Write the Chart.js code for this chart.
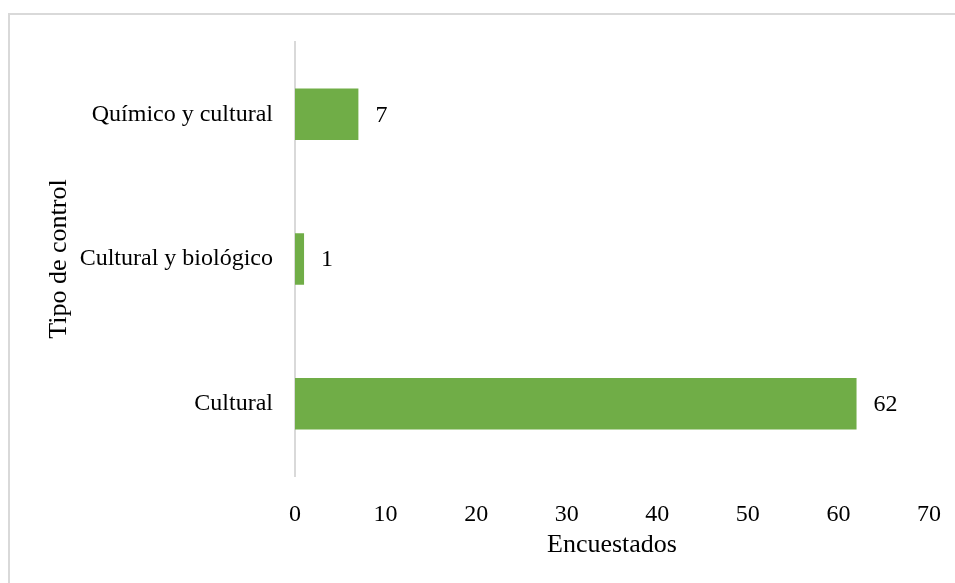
<!DOCTYPE html>
<html>
<head>
<meta charset="utf-8">
<script src="https://cdn.jsdelivr.net/npm/chart.js@4.4.1/dist/chart.umd.min.js"></script>
<style>
  html, body { margin: 0; padding: 0; width: 955px; height: 583px; overflow: hidden; background: #ffffff; }
  #frame { position: absolute; left: 8px; top: 13px; width: 1000px; height: 700px;
           border-left: 2px solid #d9d9d9; border-top: 2px solid #d9d9d9; box-sizing: border-box; }
  #c { position: absolute; left: 0; top: 0; }
</style>
</head>
<body>
<div id="frame"></div>
<canvas id="c" width="955" height="583"></canvas>
<script>
// Data
const categories = ["Químico y cultural", "Cultural y biológico", "Cultural"];
const encuestados = [7, 1, 62];
const xTicks = [0, 10, 20, 30, 40, 50, 60, 70];

const xAxisTitle = "Encuestados";
const yAxisTitle = "Tipo de control";

const FONT = "'Liberation Serif', 'Times New Roman', serif";

const valueLabels = {
  id: 'valueLabels',
  afterDatasetsDraw(chart) {
    const ctx = chart.ctx;
    ctx.save();
    ctx.font = "24px " + FONT;
    ctx.fillStyle = "#000000";
    ctx.textAlign = "left";
    ctx.textBaseline = "middle";
    chart.getDatasetMeta(0).data.forEach((bar, i) => {
      ctx.fillText(String(encuestados[i]), bar.x + 17, bar.y + 1);
    });
    ctx.restore();
  }
};

new Chart(document.getElementById('c'), {
  type: 'bar',
  data: {
    labels: categories,
    datasets: [{
      data: encuestados,
      backgroundColor: '#70AD47',
      borderWidth: 0,
      barPercentage: 0.356,
      categoryPercentage: 1.0
    }]
  },
  options: {
    indexAxis: 'y',
    responsive: false,
    animation: false,
    layout: { padding: { left: 0, top: 42, right: 26, bottom: 0 } },
    plugins: { legend: { display: false }, tooltip: { enabled: false } },
    scales: {
      x: {
        min: 0, max: 70,
        afterBuildTicks(scale) { scale.ticks = xTicks.map(v => ({ value: v })); },
        grid: { display: false, drawTicks: false },
        border: { display: false },
        ticks: { color: '#000000', font: { family: FONT, size: 24 }, padding: 24, maxRotation: 0 },
        title: { display: true, text: xAxisTitle, color: '#000000',
                 font: { family: FONT, size: 26 }, padding: { top: 0, bottom: 22 } },
        afterFit(scale) { scale.height = 107; scale.paddingRight = 0; scale.paddingLeft = 0; }
      },
      y: {
        grid: { display: false, drawTicks: false },
        border: { display: true, color: '#d9d9d9', width: 2 },
        ticks: { color: '#000000', font: { family: FONT, size: 24 }, padding: 22 },
        title: { display: true, text: yAxisTitle, color: '#000000',
                 font: { family: FONT, size: 26 }, padding: { top: 44, bottom: 0 } },
        afterFit(scale) { scale.width = 295; scale.paddingTop = 0; scale.paddingBottom = 0; }
      }
    }
  },
  plugins: [valueLabels]
});
</script>
</body>
</html>
